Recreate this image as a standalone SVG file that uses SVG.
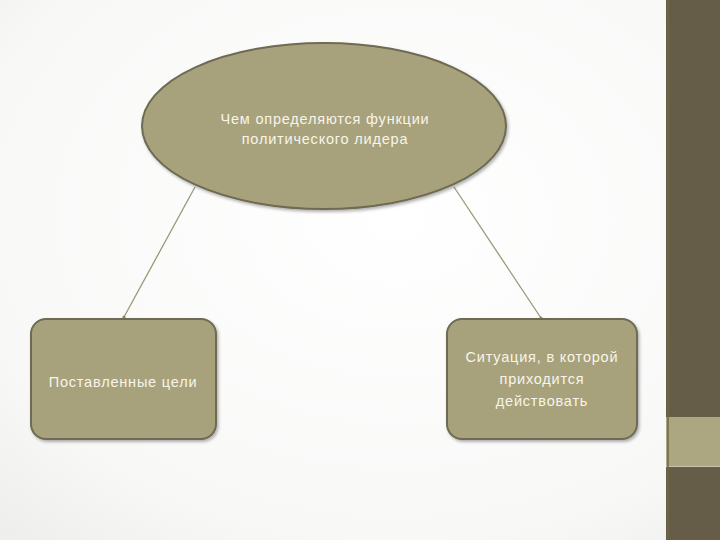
<svg xmlns="http://www.w3.org/2000/svg" width="720" height="540" viewBox="0 0 720 540">
<defs>
<radialGradient id="bg" cx="0.55" cy="0.4" r="0.8">
<stop offset="0" stop-color="#ffffff"/>
<stop offset="0.75" stop-color="#f8f8f7"/>
<stop offset="1" stop-color="#eeeeec"/>
</radialGradient>
<filter id="sh" x="-10%" y="-10%" width="130%" height="130%">
<feDropShadow dx="1.5" dy="2" stdDeviation="1.5" flood-color="#000" flood-opacity="0.3"/>
</filter>
<marker id="dot" markerWidth="4" markerHeight="4" refX="2" refY="2" markerUnits="userSpaceOnUse">
<circle cx="2" cy="2" r="1.6" fill="#8c8868"/>
</marker>
</defs>
<style>
.shape{fill:#a8a27c;stroke:#6e6a52;stroke-width:2;filter:url(#sh)}
.t{font-family:"Liberation Sans","Open Sans",sans-serif;font-size:14.5px;letter-spacing:0.8px;fill:#f7f5ea;text-anchor:middle}
.c{stroke:#9c9878;stroke-width:1.3;fill:none;marker-end:url(#dot)}
</style>
<rect width="720" height="540" fill="url(#bg)"/>
<rect x="666" y="0" width="54" height="540" fill="#655d48"/>
<rect x="666" y="417" width="54" height="49" fill="#aca780"/>
<line x1="666" y1="466.5" x2="720" y2="466.5" stroke="#c9c6ad" stroke-width="1"/>
<line x1="668" y1="0" x2="668" y2="540" stroke="#6e6846" stroke-width="1.5"/>
<g id="connectors">
<line class="c" x1="195" y1="187" x2="124" y2="317"/>
<line class="c" x1="454" y1="187" x2="541" y2="318"/>
</g>
<g id="n1">
<ellipse class="shape" cx="324" cy="126" rx="182" ry="83"/>
<text class="t" x="325" y="124">Чем определяются функции</text>
<text class="t" x="325" y="144">политического лидера</text>
</g>
<g id="n2">
<rect class="shape" x="31" y="319" width="185" height="120" rx="15"/>
<text class="t" x="123" y="387">Поставленные цели</text>
</g>
<g id="n3">
<rect class="shape" x="447" y="319" width="190" height="120" rx="15"/>
<text class="t" x="542" y="362">Ситуация, в которой</text>
<text class="t" x="542" y="384">приходится</text>
<text class="t" x="542" y="406">действовать</text>
</g>
</svg>
